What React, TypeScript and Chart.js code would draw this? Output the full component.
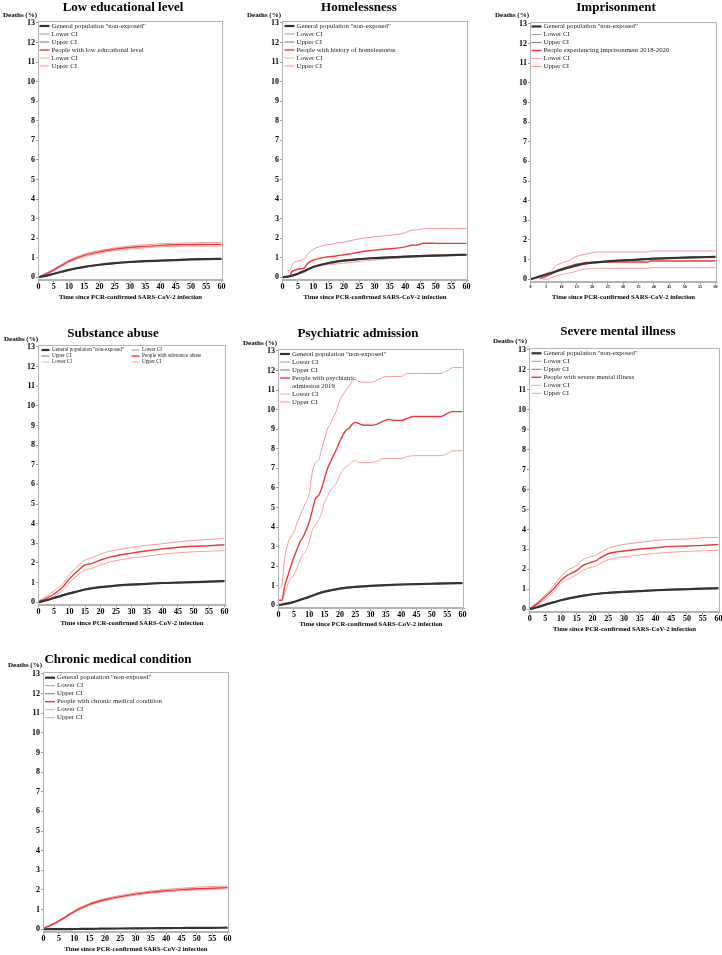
import React, { useEffect, useRef } from 'react';
import { Chart, registerables } from 'chart.js';

Chart.register(...registerables);

const SERIF = '"Liberation Serif", "Times New Roman", Times, serif';

// ---------- axis ticks & shared text ----------
const yTickValues = [0, 1, 2, 3, 4, 5, 6, 7, 8, 9, 10, 11, 12, 13];
const xTickValues = [0, 5, 10, 15, 20, 25, 30, 35, 40, 45, 50, 55, 60];
const yAxisTitle = 'Deaths (%)';
const xAxisTitle = 'Time since PCR-confirmed SARS-CoV-2 infection';
const refLabel = 'General population "non-exposed"';
const lowerLabel = 'Lower CI';
const upperLabel = 'Upper CI';

const panelTitles = [
  'Low educational level',
  'Homelessness',
  'Imprisonment',
  'Substance abuse',
  'Psychiatric admission',
  'Severe mental illness',
  'Chronic medical condition',
];
const groupLabels = [
  'People with low educational level',
  'People with history of homelessness',
  'People experiencing imprisonment 2018-2020',
  'People with substance abuse',
  'People with psychiatric\nadmission 2019',
  'People with severe mental illness',
  'People with chronic medical condition',
];

// ---------- day grids ----------
const smoothDays = [0, 2.5, 5, 7.5, 10, 12.5, 15, 17.5, 20, 25, 30, 35, 40, 45, 50, 55, 60];
const homDays = [0, 1.5, 2.5, 3, 4, 5, 6, 7, 8, 9, 10, 12, 14, 16, 18, 20, 23, 26, 29, 32, 35, 38, 40, 42, 44, 46, 48, 50, 55, 60];
const impDays = [0, 3, 4, 5, 6, 7, 8, 9, 10, 11, 12, 13, 14, 15, 16, 17, 18, 20, 22, 25, 30, 38, 39, 45, 50, 55, 60];
const subDays = [0, 2.5, 5, 8, 10, 12, 15, 17, 20, 23, 25, 30, 35, 40, 45, 50, 55, 60];
const psyDays = [0, 1, 2, 3, 4, 5, 6, 7, 8, 9, 10, 11, 12, 13, 14, 15, 16, 17, 18, 19, 20, 21, 22, 23, 24, 25, 26, 28, 30, 32, 34, 36, 38, 40, 42, 44, 46, 50, 53, 55, 57, 60];
const smiDays = [0, 2.5, 5, 7.5, 10, 12, 15, 17, 20, 21, 22, 25, 30, 35, 40, 45, 50, 55, 60];

// ---------- Low educational level ----------
const eduRef = [0, 0.08, 0.18, 0.28, 0.38, 0.46, 0.53, 0.59, 0.64, 0.72, 0.78, 0.82, 0.85, 0.88, 0.91, 0.93, 0.94];
const eduRefLo = [0, 0.07, 0.16, 0.26, 0.36, 0.44, 0.51, 0.57, 0.62, 0.7, 0.76, 0.8, 0.83, 0.86, 0.89, 0.91, 0.92];
const eduRefHi = [0, 0.09, 0.19, 0.3, 0.4, 0.48, 0.55, 0.61, 0.66, 0.74, 0.8, 0.84, 0.87, 0.9, 0.93, 0.95, 0.96];
const eduGrp = [0, 0.18, 0.38, 0.6, 0.82, 0.99, 1.12, 1.22, 1.3, 1.43, 1.52, 1.58, 1.63, 1.66, 1.67, 1.68, 1.68];
const eduGrpLo = [0, 0.15, 0.34, 0.55, 0.76, 0.93, 1.05, 1.15, 1.23, 1.36, 1.45, 1.51, 1.56, 1.58, 1.6, 1.6, 1.61];
const eduGrpHi = [0, 0.21, 0.42, 0.65, 0.88, 1.05, 1.18, 1.29, 1.37, 1.5, 1.6, 1.66, 1.71, 1.74, 1.76, 1.78, 1.79];

// ---------- Homelessness ----------
const homRef = [0, 0.06, 0.18, 0.35, 0.52, 0.64, 0.73, 0.8, 0.85, 0.93, 0.98, 1.02, 1.05, 1.08, 1.11, 1.13, 1.15];
const homRefLo = [0, 0.05, 0.16, 0.33, 0.5, 0.62, 0.71, 0.78, 0.83, 0.91, 0.96, 1.0, 1.03, 1.06, 1.09, 1.11, 1.13];
const homRefHi = [0, 0.07, 0.2, 0.37, 0.54, 0.66, 0.75, 0.82, 0.87, 0.95, 1.0, 1.04, 1.07, 1.1, 1.13, 1.15, 1.17];
const homGrp = [null, null, 0.12, 0.28, 0.36, 0.42, 0.44, 0.47, 0.68, 0.8, 0.87, 0.96, 1.03, 1.06, 1.1, 1.15, 1.22, 1.32, 1.37, 1.42, 1.46, 1.5, 1.55, 1.64, 1.65, 1.74, 1.74, 1.73, 1.73, 1.73];
const homGrpLo = [null, null, 0.03, 0.08, 0.14, 0.18, 0.2, 0.23, 0.35, 0.45, 0.52, 0.58, 0.63, 0.66, 0.69, 0.72, 0.77, 0.83, 0.87, 0.91, 0.95, 0.98, 1.01, 1.08, 1.09, 1.13, 1.13, 1.13, 1.14, 1.14];
const homGrpHi = [null, 0.36, 0.36, 0.6, 0.78, 0.84, 0.87, 0.92, 1.15, 1.32, 1.43, 1.56, 1.65, 1.68, 1.76, 1.8, 1.9, 1.99, 2.05, 2.1, 2.15, 2.2, 2.28, 2.4, 2.42, 2.48, 2.49, 2.49, 2.49, 2.49];

// ---------- Imprisonment ----------
const impRef = [0, 0.12, 0.24, 0.36, 0.49, 0.6, 0.71, 0.79, 0.84, 0.91, 0.96, 1.0, 1.05, 1.08, 1.1, 1.12, 1.14];
const impRefLo = [0, 0.11, 0.22, 0.34, 0.47, 0.58, 0.69, 0.77, 0.82, 0.89, 0.94, 0.98, 1.03, 1.06, 1.08, 1.1, 1.12];
const impRefHi = [0, 0.13, 0.26, 0.38, 0.51, 0.62, 0.73, 0.81, 0.86, 0.93, 0.98, 1.02, 1.07, 1.1, 1.12, 1.14, 1.16];
const impGrp = [null, 0.03, 0.08, 0.15, 0.22, 0.3, 0.4, 0.47, 0.53, 0.58, 0.63, 0.68, 0.73, 0.77, 0.8, 0.83, 0.85, 0.87, 0.88, 0.88, 0.88, 0.88, 0.93, 0.93, 0.93, 0.93, 0.93];
const impGrpLo = [null, null, 0, 0, 0.02, 0.1, 0.15, 0.2, 0.24, 0.28, 0.31, 0.33, 0.37, 0.42, 0.47, 0.51, 0.52, 0.54, 0.56, 0.56, 0.56, 0.56, 0.59, 0.59, 0.59, 0.59, 0.59];
const impGrpHi = [null, 0.1, 0.2, 0.3, 0.36, 0.44, 0.66, 0.76, 0.83, 0.88, 0.92, 1.0, 1.1, 1.17, 1.22, 1.25, 1.28, 1.35, 1.39, 1.39, 1.39, 1.39, 1.44, 1.44, 1.44, 1.44, 1.44];

// ---------- Substance abuse ----------
const subRef = [0, 0.1, 0.22, 0.34, 0.45, 0.55, 0.65, 0.72, 0.77, 0.85, 0.9, 0.94, 0.98, 1.0, 1.02, 1.05, 1.08];
const subRefLo = [0, 0.09, 0.2, 0.32, 0.43, 0.53, 0.63, 0.7, 0.75, 0.83, 0.88, 0.92, 0.96, 0.98, 1.0, 1.03, 1.06];
const subRefHi = [0, 0.11, 0.24, 0.36, 0.47, 0.57, 0.67, 0.74, 0.79, 0.87, 0.92, 0.96, 1.0, 1.02, 1.04, 1.07, 1.1];
const subGrp = [0.02, 0.2, 0.42, 0.82, 1.2, 1.5, 1.9, 1.97, 2.15, 2.3, 2.37, 2.5, 2.62, 2.72, 2.8, 2.85, 2.88, 2.93];
const subGrpLo = [0, 0.12, 0.3, 0.66, 1.02, 1.3, 1.65, 1.72, 1.9, 2.05, 2.12, 2.25, 2.35, 2.45, 2.52, 2.57, 2.6, 2.63];
const subGrpHi = [0.08, 0.3, 0.58, 0.98, 1.42, 1.75, 2.15, 2.25, 2.45, 2.6, 2.65, 2.8, 2.9, 2.98, 3.08, 3.15, 3.2, 3.25];

// ---------- Psychiatric admission ----------
const psyRef = [0, 0.08, 0.17, 0.3, 0.43, 0.58, 0.7, 0.78, 0.85, 0.94, 0.99, 1.03, 1.06, 1.08, 1.1, 1.12, 1.13];
const psyRefLo = [0, 0.07, 0.15, 0.28, 0.41, 0.56, 0.68, 0.76, 0.83, 0.92, 0.97, 1.01, 1.04, 1.06, 1.08, 1.1, 1.11];
const psyRefHi = [0, 0.09, 0.19, 0.32, 0.45, 0.6, 0.72, 0.8, 0.87, 0.96, 1.01, 1.05, 1.08, 1.1, 1.12, 1.14, 1.15];
const psyGrp = [0.26, 0.26, 1.0, 1.5, 2.0, 2.45, 2.85, 3.25, 3.5, 3.85, 4.25, 4.85, 5.45, 5.6, 5.95, 6.5, 7.0, 7.35, 7.7, 8.0, 8.4, 8.7, 8.95, 9.05, 9.25, 9.35, 9.3, 9.2, 9.2, 9.25, 9.4, 9.5, 9.45, 9.45, 9.55, 9.65, 9.65, 9.65, 9.65, 9.8, 9.9, 9.9];
const psyGrpLo = [0.05, 0.15, 0.6, 1.05, 1.35, 1.55, 1.9, 2.3, 2.6, 2.8, 3.25, 3.85, 4.1, 4.35, 4.7, 5.3, 5.6, 5.9, 6.05, 6.3, 6.65, 6.9, 7.1, 7.15, 7.35, 7.4, 7.3, 7.3, 7.3, 7.35, 7.5, 7.5, 7.5, 7.5, 7.6, 7.65, 7.65, 7.65, 7.65, 7.75, 7.9, 7.9];
const psyGrpHi = [0.85, 1.0, 2.4, 3.15, 3.5, 3.75, 4.2, 4.6, 4.95, 5.3, 5.7, 6.8, 7.3, 7.4, 7.95, 8.5, 9.05, 9.3, 9.65, 10.0, 10.5, 10.75, 11.0, 11.2, 11.45, 11.55, 11.45, 11.4, 11.4, 11.5, 11.65, 11.7, 11.7, 11.7, 11.85, 11.85, 11.85, 11.85, 11.85, 12.0, 12.15, 12.15];

// ---------- Severe mental illness ----------
const smiRef = [0, 0.1, 0.23, 0.34, 0.45, 0.54, 0.62, 0.69, 0.75, 0.82, 0.87, 0.91, 0.95, 0.98, 1.0, 1.03, 1.05];
const smiRefLo = [0, 0.09, 0.21, 0.32, 0.43, 0.52, 0.6, 0.67, 0.73, 0.8, 0.85, 0.89, 0.93, 0.96, 0.98, 1.01, 1.03];
const smiRefHi = [0, 0.11, 0.25, 0.36, 0.47, 0.56, 0.64, 0.71, 0.77, 0.84, 0.89, 0.93, 0.97, 1.0, 1.02, 1.05, 1.07];
const smiGrp = [0, 0.28, 0.62, 1.0, 1.45, 1.7, 1.95, 2.2, 2.37, 2.42, 2.53, 2.78, 2.92, 3.02, 3.08, 3.15, 3.17, 3.2, 3.25];
const smiGrpLo = [0, 0.2, 0.5, 0.85, 1.3, 1.5, 1.72, 1.95, 2.12, 2.15, 2.25, 2.48, 2.63, 2.72, 2.8, 2.86, 2.9, 2.93, 2.96];
const smiGrpHi = [0.05, 0.35, 0.72, 1.15, 1.65, 1.95, 2.2, 2.5, 2.65, 2.7, 2.8, 3.05, 3.25, 3.35, 3.45, 3.5, 3.52, 3.58, 3.6];

// ---------- Chronic medical condition ----------
const chrRef = [0, 0.002, 0.005, 0.008, 0.012, 0.016, 0.02, 0.025, 0.03, 0.038, 0.045, 0.052, 0.058, 0.064, 0.07, 0.075, 0.08];
const chrRefLo = [0, 0.001, 0.004, 0.006, 0.01, 0.013, 0.017, 0.021, 0.026, 0.033, 0.04, 0.046, 0.052, 0.057, 0.062, 0.067, 0.071];
const chrRefHi = [0, 0.003, 0.006, 0.01, 0.014, 0.019, 0.023, 0.029, 0.034, 0.043, 0.05, 0.058, 0.064, 0.071, 0.078, 0.083, 0.089];
const chrGrp = [0.05, 0.22, 0.42, 0.66, 0.9, 1.1, 1.27, 1.4, 1.5, 1.66, 1.79, 1.89, 1.96, 2.02, 2.06, 2.09, 2.12];
const chrGrpLo = [0.03, 0.19, 0.38, 0.62, 0.86, 1.05, 1.22, 1.35, 1.45, 1.61, 1.74, 1.84, 1.91, 1.96, 2.0, 2.03, 2.06];
const chrGrpHi = [0.07, 0.25, 0.46, 0.7, 0.95, 1.15, 1.32, 1.45, 1.56, 1.72, 1.85, 1.95, 2.03, 2.09, 2.14, 2.18, 2.2];

// ---------- styles ----------
const REF_COLOR = '#333333';
const REF_LO_COLOR = '#9c9c9c';
const REF_HI_COLOR = '#777777';
const GRP_COLOR = '#e83a3c';
const GRP_LO_COLOR = '#f6a2a2';
const GRP_HI_COLOR = '#f39898';
const FRAME_COLOR = '#b4b4b4';

type Vals = (number | null)[];
type PanelSpec = {
  title: string;
  group: string;
  refDays: number[];
  ref: Vals; refLo: Vals; refHi: Vals;
  grpDays: number[];
  grp: Vals; grpLo: Vals; grpHi: Vals;
  frame: [number, number, number, number];
  hx: number;
  titleX: number; titleY: number;
  deathsX: number; deathsY: number;
  xTickSize: number;
  legend: { fontSize: number; rowH: number; cols: number; colW: number; dx: number; dy: number; lineLen: number; gap: number };
};

const stdLegend = { fontSize: 6.8, rowH: 8, cols: 1, colW: 0, dx: 1.5, dy: 5, lineLen: 10, gap: 2 };

const panels: PanelSpec[] = [
  { title: panelTitles[0], group: groupLabels[0], refDays: smoothDays, ref: eduRef, refLo: eduRefLo, refHi: eduRefHi, grpDays: smoothDays, grp: eduGrp, grpLo: eduGrpLo, grpHi: eduGrpHi,
    frame: [38, 21, 223, 280], hx: 21, titleX: 123, titleY: 7, deathsX: 3, deathsY: 15, xTickSize: 8, legend: stdLegend },
  { title: panelTitles[1], group: groupLabels[1], refDays: smoothDays, ref: homRef, refLo: homRefLo, refHi: homRefHi, grpDays: homDays, grp: homGrp, grpLo: homGrpLo, grpHi: homGrpHi,
    frame: [282, 21, 468, 280], hx: 21, titleX: 359, titleY: 7, deathsX: 247, deathsY: 15, xTickSize: 8, legend: { ...stdLegend, dx: 2.5 } },
  { title: panelTitles[2], group: groupLabels[2], refDays: smoothDays, ref: impRef, refLo: impRefLo, refHi: impRefHi, grpDays: impDays, grp: impGrp, grpLo: impGrpLo, grpHi: impGrpHi,
    frame: [530, 22, 717, 282], hx: 19, titleX: 616, titleY: 7, deathsX: 495, deathsY: 15, xTickSize: 4, legend: { ...stdLegend, dy: 4.5 } },
  { title: panelTitles[3], group: groupLabels[3], refDays: smoothDays, ref: subRef, refLo: subRefLo, refHi: subRefHi, grpDays: subDays, grp: subGrp, grpLo: subGrpLo, grpHi: subGrpHi,
    frame: [38, 345, 226, 605], hx: 22, titleX: 113, titleY: 333, deathsX: 4, deathsY: 339, xTickSize: 8,
    legend: { fontSize: 5.2, rowH: 6, cols: 2, colW: 90, dx: 3.5, dy: 5, lineLen: 8, gap: 2.5 } },
  { title: panelTitles[4], group: groupLabels[4], refDays: smoothDays, ref: psyRef, refLo: psyRefLo, refHi: psyRefHi, grpDays: psyDays, grp: psyGrp, grpLo: psyGrpLo, grpHi: psyGrpHi,
    frame: [278, 349, 464, 608], hx: 20, titleX: 358, titleY: 333, deathsX: 243, deathsY: 343, xTickSize: 8, legend: { ...stdLegend, dx: 2, dy: 5 } },
  { title: panelTitles[5], group: groupLabels[5], refDays: smoothDays, ref: smiRef, refLo: smiRefLo, refHi: smiRefHi, grpDays: smiDays, grp: smiGrp, grpLo: smiGrpLo, grpHi: smiGrpHi,
    frame: [529, 348, 720, 612], hx: 21, titleX: 618, titleY: 331, deathsX: 493, deathsY: 341, xTickSize: 8, legend: { ...stdLegend, dx: 2.5, dy: 5.3 } },
  { title: panelTitles[6], group: groupLabels[6], refDays: smoothDays, ref: chrRef, refLo: chrRefLo, refHi: chrRefHi, grpDays: smoothDays, grp: chrGrp, grpLo: chrGrpLo, grpHi: chrGrpHi,
    frame: [43, 672, 229, 932], hx: 21, titleX: 118, titleY: 659, deathsX: 8, deathsY: 665, xTickSize: 8, legend: { ...stdLegend, dx: 2, dy: 5.7 } },
];

// ---------- plugins ----------
const insideLegend = {
  id: 'insideLegend',
  afterDatasetsDraw(chart: any, _args: any, o: any) {
    const { ctx, chartArea } = chart;
    ctx.save();
    ctx.font = `${o.fontSize}px ${SERIF}`;
    ctx.textBaseline = 'middle';
    ctx.textAlign = 'left';
    let y = chartArea.top + o.dy;
    chart.data.datasets.forEach((ds: any, i: number) => {
      const col = i % o.cols;
      const x0 = chartArea.left + o.dx + col * o.colW;
      const lines = String(ds.label).split('\n');
      ctx.strokeStyle = ds.borderColor;
      ctx.lineWidth = ds.borderWidth;
      ctx.beginPath();
      ctx.moveTo(x0, y);
      ctx.lineTo(x0 + o.lineLen, y);
      ctx.stroke();
      ctx.fillStyle = '#222';
      lines.forEach((ln: string, k: number) => ctx.fillText(ln, x0 + o.lineLen + o.gap, y + k * o.rowH));
      if (col === o.cols - 1) y += lines.length * o.rowH;
    });
    ctx.restore();
  },
};

const frameBox = {
  id: 'frameBox',
  afterDraw(chart: any) {
    const { ctx, chartArea } = chart;
    ctx.save();
    ctx.strokeStyle = FRAME_COLOR;
    ctx.lineWidth = 1;
    ctx.strokeRect(chartArea.left + 0.5, chartArea.top + 0.5, chartArea.right - chartArea.left - 1, chartArea.bottom - chartArea.top - 1);
    ctx.restore();
  },
};

function line(label: string, days: number[], vals: Vals, color: string, width: number) {
  return {
    label,
    data: days.map((x, i) => ({ x, y: vals[i] })),
    borderColor: color,
    backgroundColor: color,
    borderWidth: width,
    pointRadius: 0,
    fill: false,
    spanGaps: false,
    cubicInterpolationMode: 'monotone' as const,
  };
}

const WY = 30;
const PADT = 6;
const PADR = 8;

function Panel({ p }: { p: PanelSpec }) {
  const ref = useRef<HTMLCanvasElement | null>(null);
  const [l, t, r, b] = p.frame;
  const cLeft = l - WY;
  const cTop = t - PADT;
  const cW = WY + (r - l) + PADR;
  const cH = PADT + (b - t) + p.hx;

  useEffect(() => {
    if (!ref.current) return;
    const chart = new Chart(ref.current, {
      type: 'line',
      data: {
        datasets: [
          line(refLabel, p.refDays, p.ref, REF_COLOR, 2.2),
          line(lowerLabel, p.refDays, p.refLo, REF_LO_COLOR, 1),
          line(upperLabel, p.refDays, p.refHi, REF_HI_COLOR, 1),
          line(p.group, p.grpDays, p.grp, GRP_COLOR, 1.4),
          line(lowerLabel, p.grpDays, p.grpLo, GRP_LO_COLOR, 1),
          line(upperLabel, p.grpDays, p.grpHi, GRP_HI_COLOR, 1),
        ],
      },
      options: {
        animation: false,
        responsive: false,
        devicePixelRatio: 1,
        events: [],
        layout: { padding: { left: 0, top: PADT, right: PADR, bottom: 0 } },
        plugins: {
          legend: { display: false },
          tooltip: { enabled: false },
          title: { display: false },
          insideLegend: p.legend,
        } as any,
        scales: {
          x: {
            type: 'linear',
            min: -0.2,
            max: 60.5,
            afterBuildTicks: (axis: any) => { axis.ticks = xTickValues.map((v) => ({ value: v })); },
            afterFit: (axis: any) => { axis.height = p.hx; },
            ticks: {
              autoSkip: false,
              maxRotation: 0,
              padding: 0,
              color: '#000',
              font: { family: SERIF, size: p.xTickSize, weight: 'bold' },
              callback: (v: any) => String(v),
            },
            grid: { drawOnChartArea: false, drawTicks: true, tickLength: 2.5, color: '#999' },
            border: { display: true, color: FRAME_COLOR },
            title: {
              display: true,
              text: xAxisTitle,
              color: '#000',
              font: { family: SERIF, size: 6.7, weight: 'bold' },
              padding: { top: 0, bottom: 0 },
            },
          },
          y: {
            type: 'linear',
            min: -0.14,
            max: 13.1,
            afterBuildTicks: (axis: any) => { axis.ticks = yTickValues.map((v) => ({ value: v })); },
            afterFit: (axis: any) => { axis.width = WY; },
            ticks: {
              autoSkip: false,
              padding: 1,
              color: '#000',
              font: { family: SERIF, size: 8, weight: 'bold' },
              callback: (v: any) => String(v),
            },
            grid: { drawOnChartArea: false, drawTicks: true, tickLength: 2, color: '#999' },
            border: { display: true, color: FRAME_COLOR },
          },
        },
      } as any,
      plugins: [insideLegend, frameBox],
    });
    return () => chart.destroy();
  }, []);

  return (
    <>
      <div
        style={{
          position: 'absolute',
          left: p.titleX,
          top: p.titleY - 8,
          transform: 'translateX(-50%) translateZ(0)',
          font: `bold 13px ${SERIF}`,
          lineHeight: '16px',
          whiteSpace: 'nowrap',
          color: '#000',
        }}
      >
        {p.title}
      </div>
      <div
        style={{
          position: 'absolute',
          left: p.deathsX,
          top: p.deathsY - 4.5,
          transform: 'translateZ(0)',
          font: `bold 7px ${SERIF}`,
          lineHeight: '9px',
          whiteSpace: 'nowrap',
          color: '#000',
        }}
      >
        {yAxisTitle}
      </div>
      <canvas
        ref={ref}
        width={cW}
        height={cH}
        style={{ position: 'absolute', left: cLeft, top: cTop, width: cW, height: cH }}
      />
    </>
  );
}

export default function App() {
  return (
    <div
      style={{
        position: 'absolute',
        left: 0,
        top: 0,
        width: 722,
        height: 955,
        overflow: 'hidden',
        background: '#fff',
      }}
    >
      {panels.map((p, i) => (
        <Panel key={i} p={p} />
      ))}
    </div>
  );
}
